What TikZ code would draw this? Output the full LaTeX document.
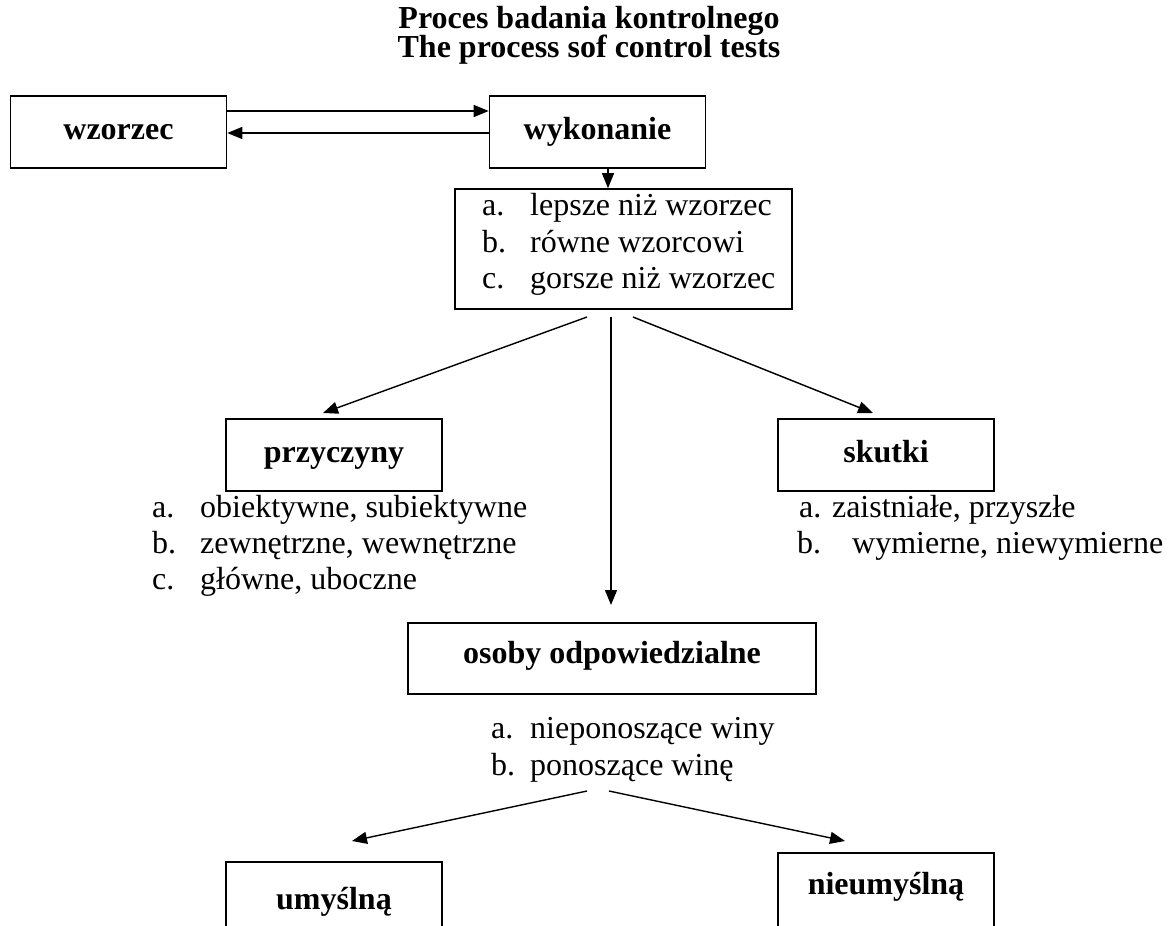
\documentclass[tikz,border=0pt]{standalone}
\usepackage{fontspec}
\setmainfont{Liberation Serif}
\usetikzlibrary{arrows.meta}
\begin{document}
\begin{tikzpicture}[x=1pt,y=-1pt,
  box/.style={draw, line width=1.6pt, minimum width=216pt, minimum height=72pt, inner sep=0pt, text height=16pt, text depth=2pt, font=\fontsize{32}{36}\selectfont\bfseries},
  btxt/.style={inner sep=0pt, font=\fontsize{32}{36}\selectfont\bfseries},
  txt/.style={anchor=base west, inner sep=0pt, font=\fontsize{32}{36}\selectfont},
  arr/.style={line width=1.4pt, -{Triangle[length=15pt,width=12pt]}},
]
\useasboundingbox (0,0) rectangle (1175,926);
\clip (0,0) rectangle (1175,926);

% title
\node[btxt, anchor=base] (t1) at (589,28) {Proces badania kontrolnego};
\node[btxt, anchor=base] (t2) at (589,57) {The process sof control tests};

% top row
\node[box] (wzorzec) at (118.5,132) {wzorzec};
\node[box] (wykonanie) at (597.5,132) {wykonanie};
\draw[arr] ([yshift=21pt]wzorzec.east) -- ([yshift=21pt]wykonanie.west);
\draw[arr] ([yshift=-1pt]wykonanie.west) -- ([yshift=-1pt]wzorzec.east);

% list box
\node[draw, line width=1.6pt, minimum width=337pt, minimum height=120pt, inner sep=0pt] (lista) at (623.5,249) {};
\draw[arr] ([xshift=10.5pt]wykonanie.south) -- ([xshift=10.5pt]wykonanie.south |- lista.north);
\node[txt] (l1) at (482,215) {\makebox[48pt][l]{a.}lepsze niż wzorzec};
\node[txt] (l2) at (482,252) {\makebox[48pt][l]{b.}równe wzorcowi};
\node[txt] (l3) at (482,288) {\makebox[48pt][l]{c.}gorsze niż wzorzec};

% second row
\node[box] (przyczyny) at (334,455) {przyczyny};
\node[box] (skutki) at (886,455) {skutki};
\coordinate (s1) at (587,317);
\coordinate (s2) at (611,317);
\coordinate (s3) at (633,317);
\coordinate (e1) at (323,413);
\coordinate (e3) at (873,413);
\draw[arr] (s1) -- (e1);
\draw[arr] (s3) -- (e3);

\node[txt] (p1) at (152,517) {\makebox[48pt][l]{a.}obiektywne, subiektywne};
\node[txt] (p2) at (152,553) {\makebox[48pt][l]{b.}zewnętrzne, wewnętrzne};
\node[txt] (p3) at (152,589) {\makebox[48pt][l]{c.}główne, uboczne};

\node[txt] (k1) at (799,517) {a. zaistniałe, przyszłe};
\node[txt] (k2) at (797,553) {\makebox[55pt][l]{b.}wymierne, niewymierne};

% osoby
\node[box, minimum width=408pt, minimum height=71pt, text depth=7pt] (osoby) at (612,658.5) {osoby odpowiedzialne};
\coordinate (e2) at (611,605);
\draw[arr] (s2) -- (e2);
\node[txt] (o1) at (491,738) {\makebox[39pt][l]{a.}nieponoszące winy};
\node[txt] (o2) at (491,775) {\makebox[39pt][l]{b.}ponoszące winę};

% bottom row
\coordinate (s4) at (587,791);
\coordinate (s5) at (609,791);
\coordinate (e4) at (352,841);
\coordinate (e5) at (845,841);
\draw[arr] (s4) -- (e4);
\draw[arr] (s5) -- (e5);
\node[box, minimum height=80pt] (umysl) at (334,902) {umyślną};
\node[box, anchor=north, minimum height=100pt] (nieumysl) at (886,852) {};
\node[btxt, anchor=base] (nieumyslt) at (886,894) {nieumyślną};
\end{tikzpicture}
\end{document}
